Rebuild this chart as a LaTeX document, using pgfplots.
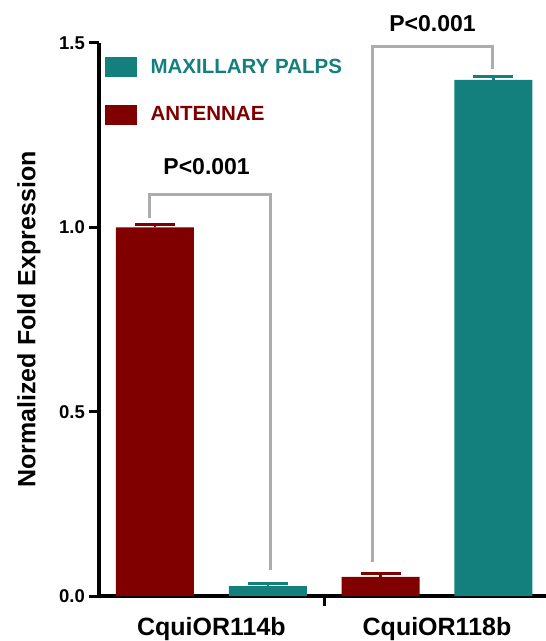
\documentclass[border=0pt]{standalone}
\usepackage{pgfplots}
\pgfplotsset{compat=1.18}
\usepackage{fontspec}
\setmainfont{Liberation Sans}
\definecolor{tealc}{RGB}{20,128,126}
\definecolor{redc}{RGB}{128,0,0}
\definecolor{brk}{RGB}{172,172,172}
\begin{document}
\begin{tikzpicture}
\useasboundingbox (-99bp,-45bp) rectangle (447bp,596bp);
\begin{axis}[
  at={(0,0)}, anchor=south west,
  width=447bp, height=553bp, scale only axis,
  xmin=-0.496, xmax=3.466, ymin=0, ymax=1.5,
  axis x line*=bottom, axis y line*=left,
  axis line style={line width=3.5bp, black},
  every tick/.style={black, line width=3bp},
  tick align=outside, major tick length=10bp,
  ytick={0,0.5,1,1.5},
  /pgf/number format/fixed, /pgf/number format/fixed zerofill,
  /pgf/number format/precision=1, /pgf/number format/assume math mode=true,
  yticklabel style={font=\fontsize{18.5bp}{20bp}\selectfont\bfseries, inner sep=0pt, anchor=east, xshift=-4bp},
  xtick={1.5}, xticklabels={},
  extra x ticks={0.5,2.5}, extra x tick labels={CquiOR114b,CquiOR118b},
  extra x tick style={major tick length=0pt,
    xticklabel style={font=\fontsize{25bp}{27bp}\selectfont\bfseries, inner sep=0pt, anchor=north, yshift=-21bp}},
  ylabel={Normalized Fold Expression},
  ylabel style={font=\fontsize{25bp}{27bp}\selectfont\bfseries, at={(axis description cs:0,0.5)}, anchor=center, yshift=70bp},
  clip=false,
  legend style={at={(0,1)}, anchor=north west, xshift=6bp, yshift=-14bp, draw=none, fill=none,
    inner sep=0pt, row sep=28bp, column sep=14bp, nodes={inner sep=0pt, anchor=west},
    font=\fontsize{20.5bp}{22bp}\selectfont\bfseries},
  legend cell align=left,
]
\addlegendimage{legend image code/.code={\fill[tealc] (0bp,-9.5bp) rectangle (31bp,9.5bp);}}
\addlegendentry{\textcolor{tealc}{MAXILLARY PALPS}}
\addlegendimage{legend image code/.code={\fill[redc] (0bp,-9.5bp) rectangle (31bp,9.5bp);}}
\addlegendentry{\textcolor{redc}{ANTENNAE}}

\addplot[ybar, bar width=78bp, bar shift=0pt, fill=redc, draw=none, forget plot,
  error bars/.cd, y dir=plus, y explicit,
  error bar style={line width=2.5bp, redc},
  error mark options={rotate=90, line width=3bp, mark size=20bp, redc}]
  coordinates {(0,1.0) +- (0,0.008) (2,0.052) +- (0,0.008)};
\addplot[ybar, bar width=78bp, bar shift=0pt, fill=tealc, draw=none, forget plot,
  error bars/.cd, y dir=plus, y explicit,
  error bar style={line width=2.5bp, tealc},
  error mark options={rotate=90, line width=3bp, mark size=20bp, tealc}]
  coordinates {(1,0.027) +- (0,0.006) (3,1.40) +- (0,0.01)};

\addplot[brk, line width=3bp, forget plot] coordinates {(-0.044,1.025) (-0.044,1.088) (1.02,1.088) (1.02,0.07)};
\addplot[brk, line width=3bp, forget plot] coordinates {(1.924,0.092) (1.924,1.49) (2.988,1.49) (2.988,1.43)};

\node[font=\fontsize{23bp}{25bp}\selectfont\bfseries] at (axis cs:0.458,1.165) {P<0.001};
\node[font=\fontsize{23bp}{25bp}\selectfont\bfseries] at (axis cs:2.46,1.553) {P<0.001};
\end{axis}
\end{tikzpicture}
\end{document}
